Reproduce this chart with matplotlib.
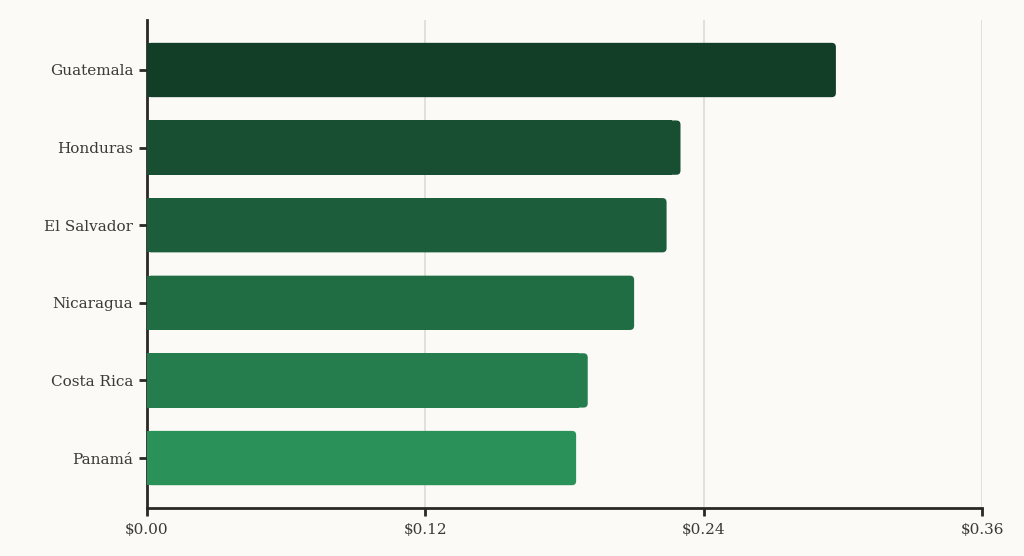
import matplotlib.pyplot as plt
from matplotlib.patches import FancyBboxPatch
from matplotlib.ticker import FuncFormatter

countries = ['Guatemala', 'Honduras', 'El Salvador', 'Nicaragua', 'Costa Rica', 'Panamá']
values = [0.297, 0.230, 0.224, 0.210, 0.190, 0.185]
colors = ['#123d27', '#184f33', '#1c5e3b', '#206d43', '#257d4e', '#2a9159']
xticks = [0.0, 0.12, 0.24, 0.36]

bg = '#fbfaf6'
ink = '#2b2823'

fig = plt.figure(figsize=(10.24, 5.56), dpi=100)
fig.set_facecolor(bg)
ax = fig.add_axes([0.1436, 0.0863, 0.8154, 0.8777])
ax.set_facecolor(bg)

ypos = list(range(len(countries)))
r = 0.0018          # corner radius in data units (x)
aspect = 30         # y/x data-unit ratio for round corners
h = 0.7

# plain part covers the left corners, rounded patch gives the right end
ax.barh(ypos, [v - 2 * r for v in values], height=h, color=colors, zorder=3)
for y, v, c in zip(ypos, values, colors):
    p = FancyBboxPatch((0, y - h / 2), v, h,
                       boxstyle=f'round,pad=0,rounding_size={r}',
                       mutation_aspect=aspect, fc=c, ec='none', zorder=3)
    ax.add_patch(p)

ax.set_xlim(0, 0.36)
ax.set_ylim(len(countries) - 1 + 0.644, -0.644)
ax.set_xticks(xticks)
ax.xaxis.set_major_formatter(FuncFormatter(lambda x, _: f'${x:.2f}'))
ax.set_yticks(ypos)
ax.set_yticklabels(countries)

ax.grid(axis='x', color='#dddbd6', lw=1.2, zorder=0)
for s in ['top', 'right']:
    ax.spines[s].set_visible(False)
for s in ['left', 'bottom']:
    ax.spines[s].set_color(ink)
    ax.spines[s].set_linewidth(2)

ax.tick_params(axis='both', colors=ink, length=6, width=2, labelsize=11,
               labelcolor='#3d3a36')
ax.tick_params(axis='y', pad=4)
ax.tick_params(axis='x', pad=5)
for lab in ax.get_xticklabels() + ax.get_yticklabels():
    lab.set_family('DejaVu Serif')

fig.savefig('out.png', dpi=100, facecolor=bg)
